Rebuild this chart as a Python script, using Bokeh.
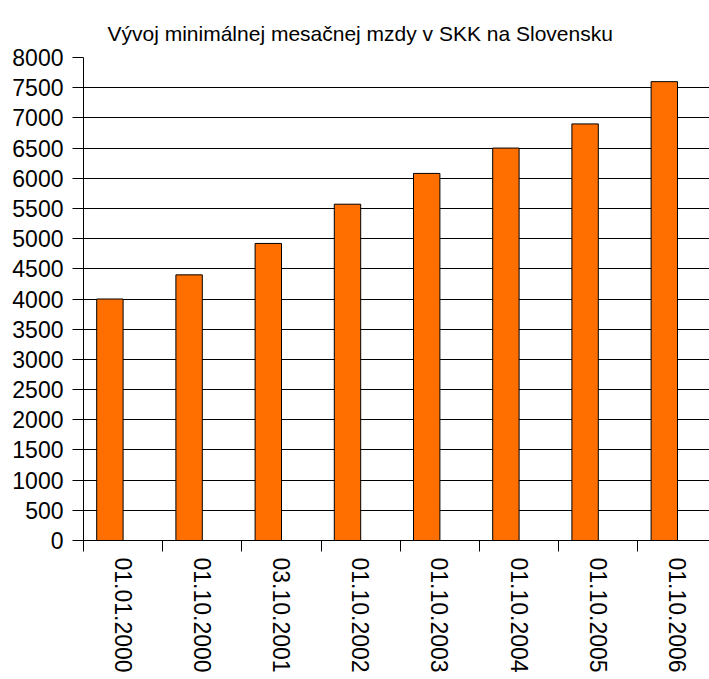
import numpy as np
from bokeh.plotting import figure
from bokeh.models import Range1d, FixedTicker, ColumnDataSource
from bokeh.embed import file_html
from bokeh.resources import INLINE

categories = ["01.01.2000", "01.10.2000", "03.10.2001", "01.10.2002",
              "01.10.2003", "01.10.2004", "01.10.2005", "01.10.2006"]
values = [4000, 4400, 4920, 5570, 6080, 6500, 6900, 7600]
y_ticks = list(range(0, 8001, 500))
title_text = "Vývoj minimálnej mesačnej mzdy v SKK na Slovensku"

FONT = "Liberation Sans"

idx = np.arange(len(categories))
src = ColumnDataSource(dict(x=idx + 1/3, top=values, cat=categories))

p = figure(width=709, height=679, output_backend="svg", toolbar_location=None,
           x_range=Range1d(0, 7.904), y_range=Range1d(0, 8000),
           min_border_left=83, min_border_right=0, min_border_top=57,
           min_border_bottom=139)
p.outline_line_color = None
p.background_fill_color = "white"
p.border_fill_color = "white"

p.title.text = title_text
p.title.text_font = FONT
p.title.text_font_size = "21px"
p.title.text_font_style = "normal"
p.title.text_color = "black"
p.title.align = "left"
p.title.offset = 24
p.title.standoff = 26

p.vbar(x="x", top="top", width=1/3, source=src, fill_color="#ff6f00",
       line_color="black", line_width=1)

# x axis
xa = p.xaxis[0]
xa.ticker = FixedTicker(ticks=list(idx + 0.5), minor_ticks=list(idx))
xa.major_label_overrides = {float(i + 0.5): c for i, c in zip(idx, categories)}
xa.major_label_orientation = -np.pi / 2
xa.major_label_text_font = FONT
xa.major_label_text_font_size = "23px"
xa.major_label_text_color = "black"
xa.major_tick_line_color = None
xa.major_tick_out = 0
xa.major_tick_in = 0
xa.minor_tick_line_color = "black"
xa.minor_tick_out = 11
xa.minor_tick_in = 0
xa.major_label_standoff = 6
xa.axis_line_color = "black"

# y axis
ya = p.yaxis[0]
ya.ticker = FixedTicker(ticks=y_ticks)
ya.major_label_text_font = FONT
ya.major_label_text_font_size = "23px"
ya.major_label_text_color = "black"
ya.major_tick_out = 11
ya.major_tick_in = 0
ya.major_tick_line_color = "black"
ya.minor_tick_line_color = None
ya.major_label_standoff = 9
ya.axis_line_color = "black"

p.xgrid.grid_line_color = None
p.ygrid.grid_line_color = "black"
p.ygrid.grid_line_width = 1

open("out.html", "w").write(file_html(p, INLINE))
